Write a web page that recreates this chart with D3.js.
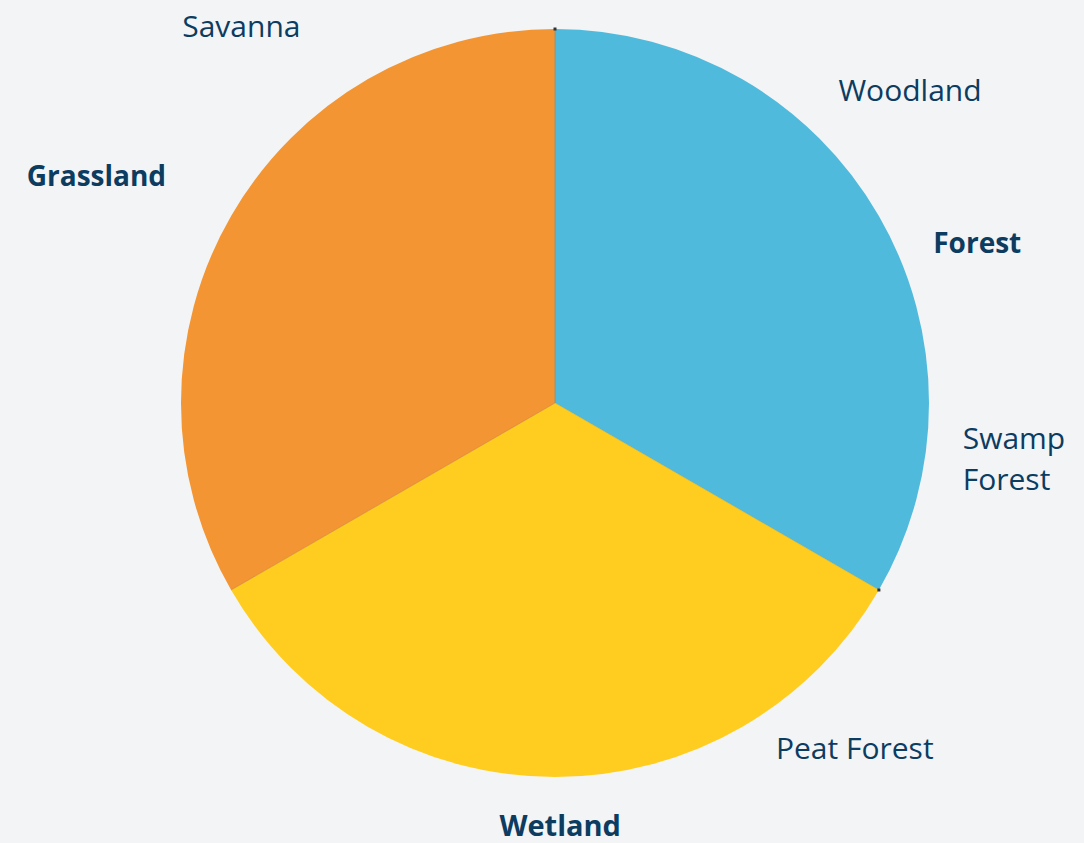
<!DOCTYPE html>
<html><head><meta charset="utf-8">
<script src="https://cdn.jsdelivr.net/npm/d3@7"></script>
<style>
html,body{margin:0;padding:0;background:#F3F4F6;}
svg{display:block;}
text{font-family:"Open Sans","Noto Sans",sans-serif;fill:#0C3C60;}
</style></head>
<body>
<svg id="chart" width="1084" height="843"></svg>
<script>
// Data
const categories = ["Forest", "Wetland", "Grassland"];
const values = [1, 1, 1];
const colors = ["#50BADD", "#FECD1F", "#F39533"];
const subLabels = ["Woodland", "Swamp\nForest", "Peat Forest", "Savanna"];
const subParents = ["Forest", "Forest", "Wetland", "Grassland"];

// Layout (angles in degrees clockwise from top, radius in px)
const mainLayout = {Forest: [69.1, 452], Wetland: [179.3, 422], Grassland: [296.4, 512]};
const subLayout = [[48.5, 474], [96.9, 454], [138.9, 456], [320.3, 491]];

const svg = d3.select("#chart");
const cx = 555, cy = 403, R = 374;
const g = svg.append("g").attr("transform", `translate(${cx},${cy})`);

const pie = d3.pie().value(d => d.v).sort(null);
const arc = d3.arc().innerRadius(0).outerRadius(R);
const data = categories.map((c, i) => ({c, v: values[i], col: colors[i]}));
const arcs = pie(data);

g.selectAll("path").data(arcs).join("path")
  .attr("d", arc)
  .attr("fill", d => d.data.col)
  .attr("stroke", "none");

g.selectAll("line.sep").data(arcs).join("line")
  .attr("class", "sep")
  .attr("x1", 0).attr("y1", 0)
  .attr("x2", d => R * Math.sin(d.startAngle))
  .attr("y2", d => -R * Math.cos(d.startAngle))
  .attr("stroke", d => d3.color(d.data.col).darker(0.6))
  .attr("stroke-width", 0.8)
  .attr("opacity", 0.6);

const f = arcs[0];
[f.startAngle, f.endAngle].forEach(a => {
  g.append("rect")
    .attr("x", R * Math.sin(a) - 1.5).attr("y", -R * Math.cos(a) - 1.5)
    .attr("width", 3).attr("height", 3).attr("fill", "#333");
});

function pos(deg, r) {
  const a = deg * Math.PI / 180;
  return [r * Math.sin(a), -r * Math.cos(a)];
}

categories.forEach(c => {
  const [x, y] = pos(...mainLayout[c]);
  g.append("text").attr("x", x).attr("y", y)
    .attr("text-anchor", "middle").attr("dominant-baseline", "central")
    .attr("font-size", c === "Wetland" ? 29 : 28).attr("font-weight", 700).text(c);
});

subLabels.forEach((s, i) => {
  const [x, y] = pos(...subLayout[i]);
  const lines = s.split("\n");
  const t = g.append("text").attr("font-size", 30)
    .attr("dominant-baseline", "central");
  lines.forEach((ln, j) => {
    t.append("tspan").attr("x", x - (lines.length > 1 ? 43 : 0))
      .attr("y", y + (j - (lines.length - 1) / 2) * 41)
      .attr("text-anchor", lines.length > 1 ? "start" : "middle")
      .text(ln);
  });
});
</script>
</body></html>
